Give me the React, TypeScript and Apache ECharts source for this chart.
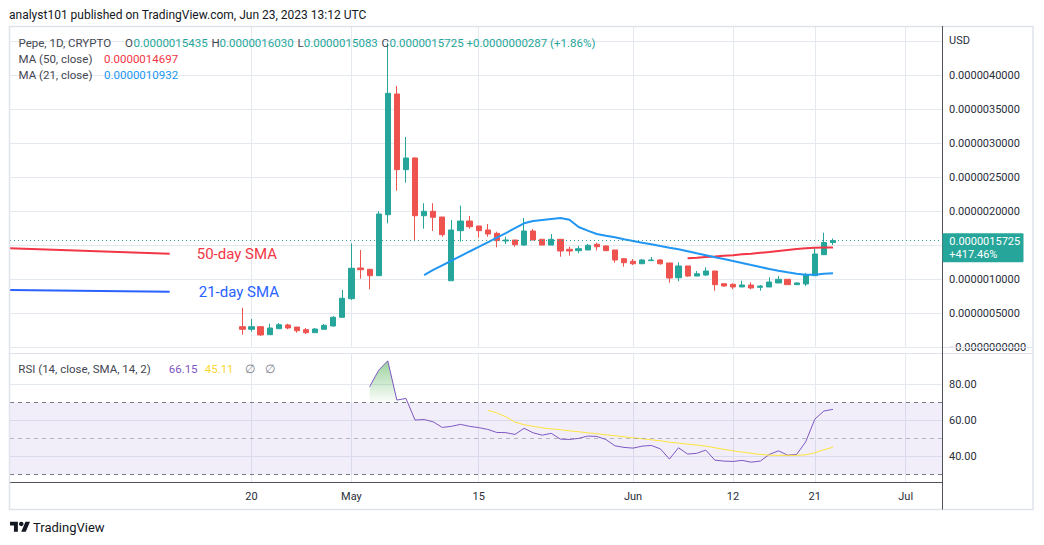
import React, { useEffect, useRef } from 'react';
import * as echarts from 'echarts';

// ---------- data (prices in units of 1e-7 USD) ----------
const dates = [
  '2023-04-19', '2023-04-20', '2023-04-21', '2023-04-22', '2023-04-23', '2023-04-24', '2023-04-25', '2023-04-26',
  '2023-04-27', '2023-04-28', '2023-04-29', '2023-04-30',
  '2023-05-01', '2023-05-02', '2023-05-03', '2023-05-04', '2023-05-05', '2023-05-06', '2023-05-07', '2023-05-08',
  '2023-05-09', '2023-05-10', '2023-05-11', '2023-05-12', '2023-05-13', '2023-05-14', '2023-05-15', '2023-05-16',
  '2023-05-17', '2023-05-18', '2023-05-19', '2023-05-20', '2023-05-21', '2023-05-22', '2023-05-23', '2023-05-24',
  '2023-05-25', '2023-05-26', '2023-05-27', '2023-05-28', '2023-05-29', '2023-05-30', '2023-05-31',
  '2023-06-01', '2023-06-02', '2023-06-03', '2023-06-04', '2023-06-05', '2023-06-06', '2023-06-07', '2023-06-08',
  '2023-06-09', '2023-06-10', '2023-06-11', '2023-06-12', '2023-06-13', '2023-06-14', '2023-06-15', '2023-06-16',
  '2023-06-17', '2023-06-18', '2023-06-19', '2023-06-20', '2023-06-21', '2023-06-22', '2023-06-23',
];
const open = [
  3.06, 2.68, 3.06, 1.88, 2.76, 3.31, 3.01, 2.62, 2.18, 2.68, 3.16, 4.44,
  7.18, 11.69, 11.5, 10.56, 19.53, 37.28, 26.15, 27.87, 19.38, 20.03, 19.19, 9.82, 17.18, 18.6, 17.87, 17.28,
  16.79, 15.66, 15.81, 15.07, 17.13, 15.91, 15.07, 15.91, 14.44, 14.24, 14.34, 15.18, 14.93, 14.34, 13.06,
  12.68, 12.32, 12.77, 12.87, 12.43, 10.26, 11.99, 10.51, 10.66, 11.25, 9.38, 9.29, 8.9, 9.19, 8.85, 8.9,
  9.49, 10.03, 9.24, 9.34, 10.56, 13.65, 15.435,
];
const close = [
  2.68, 3.06, 1.84, 2.87, 3.35, 2.87, 2.47, 2.18, 2.72, 3.26, 4.44, 7.24,
  11.65, 11.44, 10.56, 19.63, 37.38, 26.15, 27.87, 19.38, 20.03, 19.15, 16.59, 17.28, 18.6, 17.76, 17.18, 16.69,
  15.71, 15.81, 15.12, 17.13, 15.81, 15.07, 15.91, 14.19, 14.19, 14.53, 15.03, 14.82, 14.24, 12.87, 12.47,
  12.32, 12.87, 12.87, 12.32, 10.22, 11.99, 10.51, 10.85, 11.25, 9.24, 9.04, 8.9, 9.19, 8.75, 9.04, 9.63,
  10.03, 9.24, 9.49, 10.66, 13.75, 15.438, 15.725,
];
const low = [
  1.88, 2.32, 1.74, 1.88, 2.76, 2.68, 2.18, 1.99, 2.18, 2.68, 3.06, 4.44,
  6.99, 10.12, 8.56, 10.56, 18.26, 23.06, 24.24, 15.62, 17.47, 17.13, 16.29, 9.82, 15.56, 17.47, 16.15, 16.29,
  14.74, 15.22, 14.82, 14.97, 15.81, 15.07, 15.07, 13.35, 13.5, 13.85, 14.34, 14.29, 14.19, 12.47, 11.88,
  12.13, 12.32, 12.77, 12.18, 9.53, 9.74, 10.41, 10.51, 10.51, 8.35, 8.94, 8.56, 8.9, 8.56, 8.35, 8.9,
  9.49, 9.24, 9.24, 9.04, 10.51, 13.65, 15.083,
];
const high = [
  5.85, 4.19, 3.16, 3.5, 3.6, 3.5, 3.01, 2.87, 2.87, 3.46, 4.63, 8.46,
  15.32, 14.34, 11.5, 20.03, 44.8, 38.46, 30.96, 27.97, 21.21, 21.21, 19.19, 18.75, 20.85, 19.34, 17.87, 18.16,
  17.03, 16.29, 15.81, 19.04, 17.43, 15.91, 16.69, 15.91, 14.82, 14.93, 15.22, 15.41, 15.03, 14.34, 13.16,
  13.01, 13.01, 13.31, 13.01, 12.43, 12.53, 11.99, 11.25, 11.79, 11.25, 9.44, 9.44, 9.82, 9.59, 9.19, 10.32,
  10.51, 10.03, 9.6, 10.96, 14.53, 16.88, 16.03,
];

const ma21From = '2023-05-09';
const ma21 = [
  10.66, 11.41, 12.09, 12.76, 13.44, 14.12, 14.79, 15.47, 16.15, 16.82, 17.55, 18.26, 18.6, 18.75, 18.9, 19.04,
  18.8, 17.72, 17.18, 16.69, 16.44, 16.2, 15.91, 15.66, 15.41, 15.18, 14.93, 14.68, 14.44, 14.15, 13.85, 13.56,
  13.26, 13.01, 12.72, 12.43, 12.13, 11.84, 11.54, 11.29, 11.06, 10.85, 10.71, 10.71, 10.85, 10.932,
];
const ma50From = '2023-06-07';
const ma50 = [
  13.12, 13.21, 13.31, 13.38, 13.48, 13.57, 13.7, 13.8, 13.92, 14.04, 14.19, 14.34, 14.49, 14.59, 14.66, 14.71, 14.697,
];

const rsiFrom = '2023-05-03';
const rsi = [
  78.7, 87.9, 93.1, 71.3, 72.2, 60.2, 60.5, 59.2, 56.1, 56.7, 57.8, 56.7,
  56.0, 55.0, 53.3, 53.2, 52.2, 55.6, 53.1, 51.8, 52.8, 49.6, 49.4, 50.0, 51.3, 51.1, 49.4, 45.9, 45.0, 44.6,
  45.7, 46.1, 44.2, 38.5, 44.8, 41.3, 41.7, 43.5, 37.9, 37.4, 37.2, 37.8, 36.8, 37.4, 41.1, 43.1, 40.7, 41.1,
  48.1, 60.7, 65.2, 66.15,
];
const rsiMaFrom = '2023-05-16';
const rsiMa = [
  65.7, 64.2, 62.0, 59.1, 57.6, 56.7, 55.9, 55.3, 54.8, 54.2, 53.7, 53.1, 52.6, 52.0, 51.5, 50.9, 50.3, 49.8,
  49.2, 48.7, 47.9, 47.4, 46.8, 46.3, 45.7, 44.8, 43.9, 43.1, 42.4, 41.7, 41.1, 40.7, 40.6, 40.6, 40.6, 40.9,
  42.0, 43.7, 45.11,
];

// analyst drawings: [day offset from 2023-04-20, price]
const sma50Note = [[-26.6, 14.59], [-9.0, 13.79]];
const sma21Note = [[-26.6, 8.46], [-9.0, 8.21]];

const timeTickDates = ['2023-04-20', '2023-05-01', '2023-05-15', '2023-06-01', '2023-06-12', '2023-06-21', '2023-07-01'];
const timeTickLabels = ['20', 'May', '15', 'Jun', '12', '21', 'Jul'];
const priceGridValues = [0, 5, 10, 15, 20, 25, 30, 35, 40, 45];
const priceLabelValues = [0, 5, 10, 20, 25, 30, 35, 40];
const rsiGridValues = [40, 60, 80];
const rsiBands = { upper: 70, middle: 50, lower: 30 };

// ---------- helpers ----------
const REF = Date.parse('2023-04-20');
const day = (d: string) => Math.round((Date.parse(d) - REF) / 86400000);
const fromSeries = (start: string, vals: number[]) => vals.map((v, i) => [day(start) + i, v]);
const priceText = (v: number) => (v * 1e-7).toFixed(10);

const FONT = 'Roboto';
const GRID = '#E4E9F0';
const UP = '#26A69A';
const DOWN = '#EF5350';
const X_MIN = -26.58;
const X_MAX = 76.0;

const tickX = timeTickDates.map(day);

function buildOption(): any {
  const candleData = dates.map((d, i) => [day(d), open[i], close[i], low[i], high[i]]);
  const rsiPts = fromSeries(rsiFrom, rsi);
  const obPts = rsiPts.filter((p) => p[1] > rsiBands.upper);
  const xAxisBase = (i: number) => ({
    type: 'value',
    gridIndex: i,
    min: X_MIN,
    max: X_MAX,
    position: 'bottom',
    axisLine: { show: i === 1, onZero: false, lineStyle: { color: '#50535E', width: 1 } },
    axisTick: { show: false, customValues: tickX },
    axisLabel: {
      show: i === 1,
      customValues: tickX,
      formatter: (v: number) => timeTickLabels[tickX.indexOf(Math.round(v))] ?? '',
      color: '#2A2E39',
      fontSize: 11,
      fontFamily: FONT,
      margin: 8,
    },
    splitLine: { show: true, lineStyle: { color: GRID, width: 1 } },
  });
  return {
    animation: false,
    backgroundColor: '#ffffff',
    textStyle: { fontFamily: FONT },
    grid: [
      { left: 10, right: 102, top: 26, height: 322 },
      { left: 10, right: 102, top: 353, height: 129.5 },
    ],
    xAxis: [xAxisBase(0), xAxisBase(1)],
    yAxis: [
      {
        type: 'value',
        gridIndex: 0,
        position: 'right',
        min: -0.0735,
        max: 47.279,
        axisLine: { show: false },
        axisTick: { show: false, customValues: priceGridValues },
        axisLabel: {
          customValues: priceLabelValues,
          formatter: (v: number) => (v === 0 ? '\u22120.0000000000' : priceText(v)),
          color: '#2A2E39',
          fontSize: 11,
          fontFamily: FONT,
          margin: 7,
        },
        splitLine: { show: true, lineStyle: { color: GRID, width: 1 } },
      },
      {
        type: 'value',
        gridIndex: 1,
        position: 'right',
        min: 25.5,
        max: 97.45,
        axisLine: { show: false },
        axisTick: { show: false, customValues: rsiGridValues },
        axisLabel: {
          customValues: rsiGridValues,
          formatter: (v: number) => v.toFixed(2),
          color: '#2A2E39',
          fontSize: 11,
          fontFamily: FONT,
          margin: 7,
        },
        splitLine: { show: true, lineStyle: { color: GRID, width: 1 } },
      },
    ],
    series: [
      {
        type: 'candlestick',
        xAxisIndex: 0,
        yAxisIndex: 0,
        encode: { x: 0, y: [1, 2, 3, 4] },
        data: candleData,
        barWidth: 5.7,
        itemStyle: { color: UP, color0: DOWN, borderColor: UP, borderColor0: DOWN, borderWidth: 1 },
        z: 2,
      },
      {
        type: 'line',
        xAxisIndex: 0,
        yAxisIndex: 0,
        data: [],
        clip: false,
        markLine: {
          silent: true,
          symbol: ['none', 'none'],
          lineStyle: { color: UP, type: [1, 3], width: 1 },
          label: { show: false },
          data: [{ yAxis: close[close.length - 1] }],
        },
        z: 3,
      },
      {
        type: 'line',
        name: 'MA50',
        xAxisIndex: 0,
        yAxisIndex: 0,
        data: fromSeries(ma50From, ma50),
        showSymbol: false,
        symbol: 'none',
        lineStyle: { color: '#F23645', width: 2 },
        z: 4,
      },
      {
        type: 'line',
        name: 'MA21',
        xAxisIndex: 0,
        yAxisIndex: 0,
        data: fromSeries(ma21From, ma21),
        showSymbol: false,
        symbol: 'none',
        lineStyle: { color: '#2196F3', width: 2 },
        z: 4,
      },
      {
        type: 'line',
        xAxisIndex: 0,
        yAxisIndex: 0,
        data: sma50Note,
        showSymbol: false,
        symbol: 'none',
        lineStyle: { color: '#F23645', width: 2 },
        endLabel: { show: true, formatter: '50-day SMA', color: '#F23645', fontSize: 15, fontFamily: FONT, distance: 27 },
        z: 4,
      },
      {
        type: 'line',
        xAxisIndex: 0,
        yAxisIndex: 0,
        data: sma21Note,
        showSymbol: false,
        symbol: 'none',
        lineStyle: { color: '#2962FF', width: 2 },
        endLabel: { show: true, formatter: '21-day SMA', color: '#2962FF', fontSize: 15, fontFamily: FONT, distance: 29 },
        z: 4,
      },
      {
        type: 'line',
        xAxisIndex: 1,
        yAxisIndex: 1,
        data: obPts,
        showSymbol: false,
        symbol: 'none',
        lineStyle: { width: 0 },
        areaStyle: {
          origin: rsiBands.upper,
          color: new echarts.graphic.LinearGradient(0, 0, 0, 1, [
            { offset: 0, color: 'rgba(76,175,80,0.8)' },
            { offset: 1, color: 'rgba(76,175,80,0.03)' },
          ]),
        },
        z: 2,
      },
      {
        type: 'line',
        name: 'RSI',
        xAxisIndex: 1,
        yAxisIndex: 1,
        data: rsiPts,
        showSymbol: false,
        symbol: 'none',
        lineStyle: { color: '#7E57C2', width: 1 },
        markArea: {
          silent: true,
          itemStyle: { color: 'rgba(126,87,194,0.1)' },
          data: [[{ yAxis: rsiBands.lower }, { yAxis: rsiBands.upper }]],
        },
        markLine: {
          silent: true,
          symbol: ['none', 'none'],
          label: { show: false },
          lineStyle: { color: '#787B86', type: [4, 4], width: 1 },
          data: [
            { yAxis: rsiBands.upper },
            { yAxis: rsiBands.middle, lineStyle: { color: 'rgba(120,123,134,0.5)', type: [4, 4], width: 1 } },
            { yAxis: rsiBands.lower },
          ],
        },
        z: 4,
      },
      {
        type: 'line',
        name: 'RSI MA',
        xAxisIndex: 1,
        yAxisIndex: 1,
        data: fromSeries(rsiMaFrom, rsiMa),
        showSymbol: false,
        symbol: 'none',
        lineStyle: { color: '#FDE33A', width: 1 },
        z: 4,
      },
    ],
  };
}

const txt = (x: number, y: number, text: string, fill: string, fontSize = 11.5, z = 100) => ({
  type: 'text',
  x,
  y,
  z,
  silent: true,
  style: { text, fill, fontSize, fontFamily: FONT, align: 'left', verticalAlign: 'middle' },
});

const LOGO_D = 'M14 22H7V11H0V4h14v18zM28 22h-8l7.5-18h8L28 22z';

export default function App() {
  const ref = useRef<HTMLDivElement>(null);
  useEffect(() => {
    if (!ref.current) return;
    echarts.graphic.registerShape('tvlogo', echarts.graphic.extendPath(LOGO_D, {}) as any);
    const chart = echarts.init(ref.current, null, { renderer: 'svg' });
    chart.setOption(buildOption());

    const last = dates.length - 1;
    const yTag = chart.convertToPixel({ yAxisIndex: 0 }, close[last]) as number;
    const legendGray = '#434651';
    const s = 0.563;
    const logoX = 10;
    const logoY = 519.4;
    const graphic = [
      // frame & separators
      { type: 'rect', z: 100, silent: true, shape: { x: 9.5, y: 26.5, width: 1023.5, height: 483 }, style: { fill: 'none', stroke: '#E0E3EB', lineWidth: 1.5 } },
      { type: 'line', z: 100, silent: true, shape: { x1: 10, y1: 353.5, x2: 1033, y2: 353.5 }, style: { stroke: '#E0E3EB', lineWidth: 1 } },
      { type: 'line', z: 100, silent: true, shape: { x1: 942, y1: 347.5, x2: 1033, y2: 347.5 }, style: { stroke: '#E0E3EB', lineWidth: 1 } },
      { type: 'line', z: 100, silent: true, shape: { x1: 942.5, y1: 26, x2: 942.5, y2: 509.5 }, style: { stroke: '#50535E', lineWidth: 1 } },
      // header
      txt(9, 15, 'analyst101 published on TradingView.com, Jun 23, 2023 13:12 UTC', '#131722', 12),
      // legend
      txt(18.5, 42.5, 'Pepe, 1D, CRYPTO', legendGray),
      txt(125, 42.5, 'O', legendGray),
      txt(133.5, 42.5, priceText(open[last]), UP),
      txt(211.5, 42.5, 'H', legendGray),
      txt(219.5, 42.5, priceText(high[last]), UP),
      txt(297.4, 42.5, 'L', legendGray),
      txt(303.7, 42.5, priceText(low[last]), UP),
      txt(381.6, 42.5, 'C', legendGray),
      txt(389.5, 42.5, priceText(close[last]), UP),
      txt(466.6, 42.5, '+0.0000000287 (+1.86%)', UP),
      txt(18.5, 59, 'MA (50, close)', legendGray),
      txt(104, 59, priceText(ma50[ma50.length - 1]), '#F23645'),
      txt(18.5, 74.5, 'MA (21, close)', legendGray),
      txt(104, 74.5, priceText(ma21[ma21.length - 1]), '#2196F3'),
      txt(949, 40, 'USD', '#2A2E39', 11),
      // RSI legend
      txt(18.3, 369, 'RSI (14, close, SMA, 14, 2)', legendGray),
      txt(168.7, 369, rsi[rsi.length - 1].toFixed(2), '#7E57C2'),
      txt(204.7, 369, rsiMa[rsiMa.length - 1].toFixed(2), '#F9D835'),
      txt(245, 369, '\u2205', '#787B86'),
      txt(265, 369, '\u2205', '#787B86'),
      // price tag
      { type: 'rect', z: 101, silent: true, shape: { x: 942.5, y: yTag - 7.3, width: 81, height: 29, r: 1 }, style: { fill: UP } },
      txt(949.3, yTag + 0.8, priceText(close[last]), '#ffffff', 11, 102),
      txt(949.3, yTag + 13.7, '+417.46%', '#ffffff', 11, 102),
      // TradingView logo
      { type: 'tvlogo', z: 100, silent: true, x: logoX, y: logoY, scaleX: s, scaleY: s, style: { fill: '#131722' } },
      { type: 'circle', z: 100, silent: true, shape: { cx: logoX + 20 * s, cy: logoY + 8 * s, r: 4 * s }, style: { fill: '#131722' } },
      txt(33, 527.5, 'TradingView', '#131722', 13),
    ];
    chart.setOption({ graphic });
    return () => chart.dispose();
  }, []);
  return (
    <div
      ref={ref}
      style={{ position: 'fixed', left: 0, top: 0, width: 1044, height: 545, background: '#ffffff' }}
    />
  );
}
